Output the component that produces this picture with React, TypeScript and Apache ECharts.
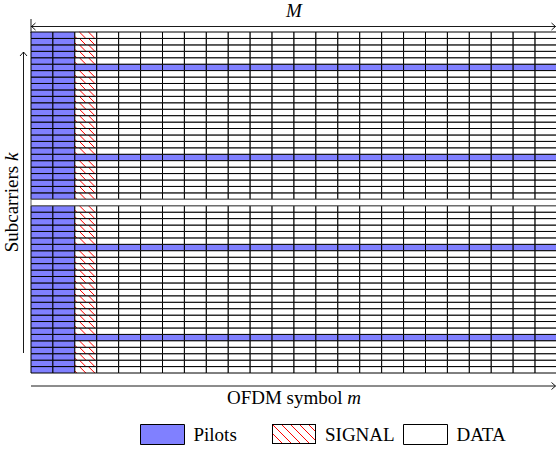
import React, { useEffect, useRef } from "react";
import * as echarts from "echarts";

// OFDM symbols m (columns) and subcarriers k (rows)
const symbolIndex = [
  "0", "1", "2", "3", "4", "5", "6", "7", "8", "9", "10", "11",
  "12", "13", "14", "15", "16", "17", "18", "19", "20", "21", "22", "23",
];
const subcarrierIndex = [
  -26, -25, -24, -23, -22, -21, -20, -19, -18, -17, -16, -15, -14, -13,
  -12, -11, -10, -9, -8, -7, -6, -5, -4, -3, -2, -1, 0,
  1, 2, 3, 4, 5, 6, 7, 8, 9, 10, 11, 12, 13, 14, 15, 16, 17, 18, 19, 20,
  21, 22, 23, 24, 25, 26,
];
const pilotSymbols = [0, 1];
const signalSymbols = [2];
const pilotSubcarriers = [-21, -7, 7, 21];
const dcSubcarriers = [0];
const legendItems = ["Pilots", "SIGNAL", "DATA"];
const xTitle = "OFDM symbol {i|m}";
const yTitle = "Subcarriers {i|k}";
const topTitle = "{i|M}";

const BLUE = "#8080ff";
const FONT = '"Liberation Serif", "Times New Roman", serif';
const FS = 19;
const HATCH = 9;

// build cell lists from the frame definition
const pilotCells: number[][] = [];
const signalCells: number[][] = [];
const dataCells: number[][] = [];
const dcRows: number[][] = [];
subcarrierIndex.forEach((k, j) => {
  if (dcSubcarriers.includes(k)) {
    dcRows.push([0, j, symbolIndex.length - 1]);
    return;
  }
  symbolIndex.forEach((_, i) => {
    if (pilotSymbols.includes(i) || pilotSubcarriers.includes(k)) pilotCells.push([i, j]);
    else if (signalSymbols.includes(i)) signalCells.push([i, j]);
    else dataCells.push([i, j]);
  });
});

function hatchSegments(x0: number, y0: number, w: number, h: number, sp: number, off: number) {
  const segs: number[][] = [];
  for (let c = -h + off - sp * Math.ceil(h / sp); c <= w; c += sp) {
    // (x - x0) - (y - y0) = c
    const ya = Math.max(0, -c);
    const yb = Math.min(h, w - c);
    if (yb - ya > 0.3) segs.push([x0 + ya + c, y0 + ya, x0 + yb + c, y0 + yb]);
  }
  return segs;
}

function hatchIcon(w: number, h: number) {
  const segs = hatchSegments(0, 0, w, h, HATCH, 2);
  const lines = segs
    .map((s) => `<line x1='${s[0]}' y1='${s[1]}' x2='${s[2]}' y2='${s[3]}' stroke='red' stroke-width='1'/>`)
    .join("");
  const svg = `<svg xmlns='http://www.w3.org/2000/svg' width='${w}' height='${h}' viewBox='0 0 ${w} ${h}'><rect x='0' y='0' width='${w}' height='${h}' fill='white'/>${lines}<rect x='0.5' y='0.5' width='${w - 1}' height='${h - 1}' fill='none' stroke='black' stroke-width='1'/></svg>`;
  return "image://data:image/svg+xml;charset=utf-8," + encodeURIComponent(svg);
}

function cellShape(api: any) {
  const c = api.coord([api.value(0), api.value(1)]);
  const s = api.size([1, 1]);
  return { x: c[0] - s[0] / 2, y: c[1] - s[1] / 2, width: s[0], height: s[1] };
}

function chevron(tipX: number, tipY: number, dir: "left" | "right" | "up") {
  const l = 4, hw = 3.5;
  if (dir === "right") return [[tipX - l, tipY - hw], [tipX, tipY], [tipX - l, tipY + hw]];
  if (dir === "left") return [[tipX + l, tipY - hw], [tipX, tipY], [tipX + l, tipY + hw]];
  return [[tipX - hw, tipY + l], [tipX, tipY], [tipX + hw, tipY + l]];
}

export default function App() {
  const ref = useRef<HTMLDivElement>(null);
  useEffect(() => {
    if (!ref.current) return;
    const chart = echarts.init(ref.current, undefined, { renderer: "svg" });
    const lineStyle = { stroke: "#000", lineWidth: 0.9, fill: "none" };
    const gLeft = 31, gTop = 32, gW = 526, gH = 341;
    const textStyle = { fontFamily: FONT, fontSize: FS, color: "#000" };
    const rich = { i: { fontFamily: FONT, fontSize: FS, fontStyle: "italic" as const, color: "#000" } };
    const legendLeft = [140, 272, 403];

    chart.setOption({
      animation: false,
      backgroundColor: "#fff",
      grid: { left: gLeft, top: gTop, width: gW, height: gH, containLabel: false, outerBoundsMode: "none" },
      xAxis: [
        {
          type: "category",
          data: symbolIndex,
          position: "bottom",
          axisLine: { show: false },
          axisTick: { show: false },
          axisLabel: { show: false },
          splitLine: { show: false },
          name: xTitle,
          nameLocation: "middle",
          nameGap: 15,
          nameTextStyle: { ...textStyle, rich },
        },
        {
          type: "category",
          data: symbolIndex,
          position: "top",
          axisLine: { show: false },
          axisTick: { show: false },
          axisLabel: { show: false },
          splitLine: { show: false },
          name: topTitle,
          nameLocation: "middle",
          nameGap: 12,
          nameTextStyle: { ...textStyle, rich },
        },
      ],
      yAxis: {
        type: "category",
        data: subcarrierIndex.map(String),
        axisLine: { show: false },
        axisTick: { show: false },
        axisLabel: { show: false },
        splitLine: { show: false },
        name: yTitle,
        nameLocation: "middle",
        nameGap: 10,
        nameRotate: 90,
        nameTextStyle: { ...textStyle, rich },
      },
      legend: legendItems.map((name, i) => ({
        data: [name === "SIGNAL" ? { name, icon: hatchIcon(44, 20) } : { name, icon: "rect" }],
        left: legendLeft[i],
        top: 424,
        padding: 0,
        itemWidth: 44,
        itemHeight: 20,
        selectedMode: false,
        itemStyle: { borderColor: "#000", borderWidth: 1 },
        textStyle: { ...textStyle, padding: [0, 0, 0, 4] },
      })),
      series: [
        {
          type: "custom",
          name: "Pilots",
          silent: true,
          data: pilotCells,
          itemStyle: { color: BLUE },
          renderItem: (_p: any, api: any) => ({
            type: "rect",
            shape: cellShape(api),
            style: { fill: BLUE, stroke: "#000", lineWidth: 1 },
          }),
        },
        {
          type: "custom",
          name: "SIGNAL",
          silent: true,
          data: signalCells,
          itemStyle: { color: "#ff0000" },
          renderItem: (_p: any, api: any) => {
            const r = cellShape(api);
            const segs = hatchSegments(r.x, r.y, r.width, r.height, HATCH, 2);
            return {
              type: "group",
              children: [
                { type: "rect", shape: r, style: { fill: "#fff" } },
                ...segs.map((s) => ({
                  type: "line",
                  shape: { x1: s[0], y1: s[1], x2: s[2], y2: s[3] },
                  style: { stroke: "#ff0000", lineWidth: 1 },
                })),
                { type: "rect", shape: r, style: { fill: "none", stroke: "#000", lineWidth: 1 } },
              ],
            };
          },
        },
        {
          type: "custom",
          name: "DATA",
          silent: true,
          data: dataCells,
          itemStyle: { color: "#ffffff" },
          renderItem: (_p: any, api: any) => ({
            type: "rect",
            shape: cellShape(api),
            style: { fill: "#fff", stroke: "#000", lineWidth: 1 },
          }),
        },
        {
          type: "custom",
          name: "DC",
          silent: true,
          data: dcRows,
          renderItem: (_p: any, api: any) => {
            const a = api.coord([api.value(0), api.value(1)]);
            const b = api.coord([api.value(2), api.value(1)]);
            const s = api.size([1, 1]);
            return {
              type: "rect",
              shape: { x: a[0] - s[0] / 2, y: a[1] - s[1] / 2, width: b[0] - a[0] + s[0], height: s[1] },
              style: { fill: "#fff", stroke: "#555", lineWidth: 1 },
            };
          },
        },
      ],
      graphic: [
        // top |<->| arrow (M)
        { type: "line", shape: { x1: 31, y1: 26.5, x2: 555.5, y2: 26.5 }, style: lineStyle },
        { type: "line", shape: { x1: 31, y1: 19, x2: 31, y2: 33 }, style: lineStyle },
        { type: "polyline", shape: { points: chevron(31.5, 26.5, "left") }, style: lineStyle },
        { type: "polyline", shape: { points: chevron(555.5, 26.5, "right") }, style: lineStyle },
        // left arrow (subcarriers)
        { type: "line", shape: { x1: 23.5, y1: 353, x2: 23.5, y2: 52 }, style: lineStyle },
        { type: "polyline", shape: { points: chevron(23.5, 52, "up") }, style: lineStyle },
        // bottom arrow (OFDM symbol)
        { type: "line", shape: { x1: 31, y1: 386, x2: 555.5, y2: 386 }, style: lineStyle },
        { type: "polyline", shape: { points: chevron(555.5, 386, "right") }, style: lineStyle },
      ],
    });
    return () => chart.dispose();
  }, []);
  return <div ref={ref} style={{ position: "fixed", left: 0, top: 0, width: 556, height: 449 }} />;
}
